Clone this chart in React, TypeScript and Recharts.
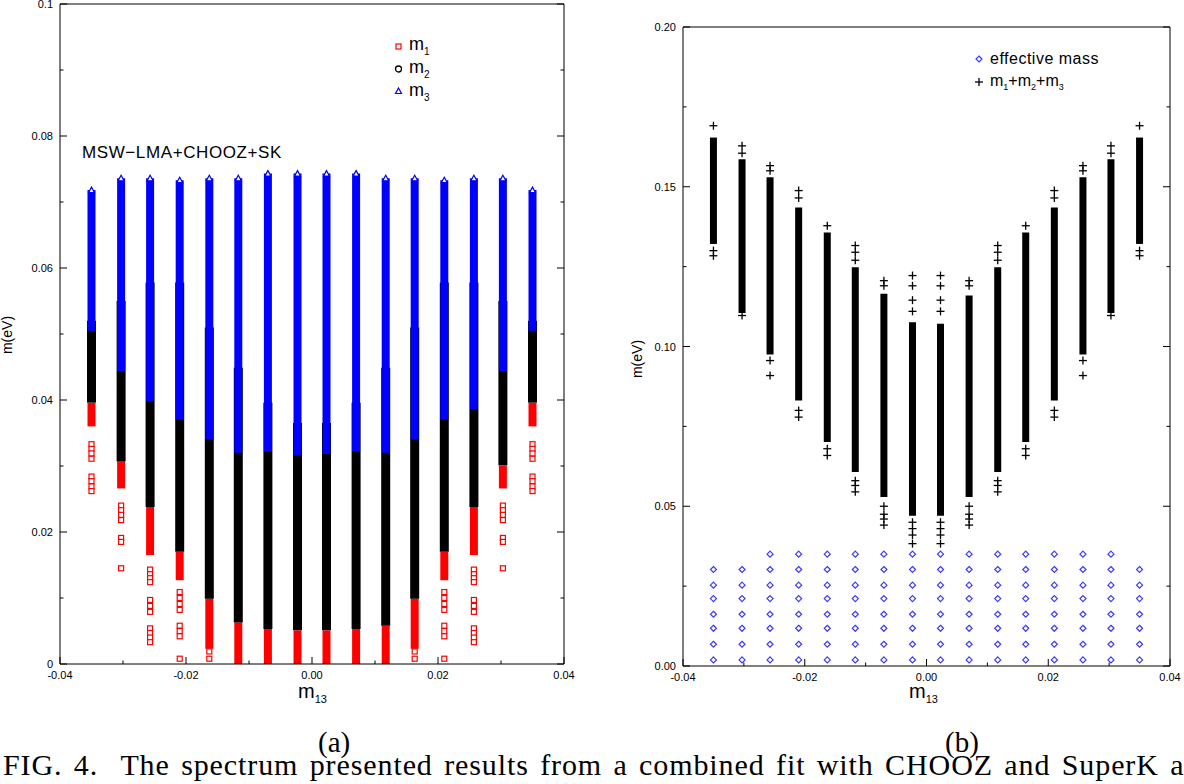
import React from 'react';
import { ScatterChart, Scatter, XAxis, YAxis, ErrorBar } from 'recharts';

// column positions (m13) shared by both panels
const m13 = [-0.035, -0.0303, -0.0257, -0.021, -0.0163, -0.0117, -0.007, -0.0023, 0.0023, 0.007, 0.0117, 0.0163, 0.021, 0.0257, 0.0303, 0.035];

// panel (a): dense ranges of each mass
const m1Low = [0.036, 0.0266, 0.0165, 0.0127, 0.0023, 0, 0, 0, 0, 0, 0, 0.0023, 0.0127, 0.0165, 0.0266, 0.036];
const m1High = [0.0396, 0.0307, 0.0238, 0.017, 0.0099, 0.0063, 0.0053, 0.0051, 0.0051, 0.0053, 0.0058, 0.0099, 0.017, 0.0238, 0.0301, 0.0396];
const m2Low = [0.0396, 0.0307, 0.0238, 0.017, 0.0099, 0.0063, 0.0053, 0.0051, 0.0051, 0.0053, 0.0058, 0.0099, 0.017, 0.0238, 0.0301, 0.0396];
const m2High = [0.052, 0.055, 0.0578, 0.0578, 0.051, 0.0449, 0.0396, 0.0365, 0.0365, 0.0396, 0.0449, 0.051, 0.0578, 0.0578, 0.055, 0.052];
const m3Low = [0.0505, 0.0444, 0.0398, 0.037, 0.034, 0.032, 0.0322, 0.0316, 0.0318, 0.0322, 0.032, 0.034, 0.037, 0.0386, 0.0444, 0.0505];
const m3High = [0.0718, 0.0736, 0.0736, 0.0733, 0.0736, 0.0736, 0.0743, 0.0743, 0.0743, 0.0743, 0.0736, 0.0736, 0.0733, 0.0736, 0.0736, 0.0718];

// isolated m1 points below the dense part
const m1Sparse: number[][] = [
  [0.0333, 0.0326, 0.0319, 0.0311, 0.0284, 0.0277, 0.0269, 0.0262],
  [0.024, 0.0233, 0.0226, 0.0218, 0.0191, 0.0185, 0.0145],
  [0.0143, 0.0136, 0.013, 0.0124, 0.0097, 0.0088, 0.0079, 0.0054, 0.0047, 0.004, 0.0033],
  [0.0109, 0.01, 0.0091, 0.0082, 0.0058, 0.005, 0.0042, 0.0008],
  [0.0019, 0.0008],
  [], [], [], [], [], [],
  [0.0019, 0.0008],
  [0.0109, 0.01, 0.0091, 0.0082, 0.0058, 0.005, 0.0042, 0.0008],
  [0.0143, 0.0136, 0.013, 0.0124, 0.0097, 0.0088, 0.0079, 0.0054, 0.0047, 0.004, 0.0033],
  [0.024, 0.0233, 0.0226, 0.0218, 0.0191, 0.0185, 0.0145],
  [0.0333, 0.0326, 0.0319, 0.0311, 0.0284, 0.0277, 0.0269, 0.0262],
];

// panel (b): m1+m2+m3
const sumLow = [0.1321, 0.1105, 0.0975, 0.0831, 0.0701, 0.0607, 0.0529, 0.047, 0.047, 0.0529, 0.0607, 0.0701, 0.0831, 0.0975, 0.1105, 0.1321];
const sumHigh = [0.1654, 0.1586, 0.153, 0.1435, 0.1357, 0.1248, 0.1165, 0.1076, 0.1071, 0.116, 0.1248, 0.1357, 0.1435, 0.153, 0.1586, 0.1654];
const sumSparse: number[][] = [
  [0.1691, 0.13, 0.1284],
  [0.1628, 0.1605, 0.1097],
  [0.1566, 0.155, 0.0956, 0.0909],
  [0.1488, 0.1465, 0.08, 0.0779],
  [0.1378, 0.068, 0.0659],
  [0.1316, 0.1295, 0.127, 0.058, 0.0565, 0.0545],
  [0.1206, 0.119, 0.05, 0.0475, 0.046, 0.0441],
  [0.1222, 0.119, 0.1145, 0.111, 0.045, 0.043, 0.041, 0.0383],
  [0.1222, 0.119, 0.1145, 0.111, 0.045, 0.043, 0.041, 0.0383],
  [0.1206, 0.119, 0.05, 0.0475, 0.046, 0.0441],
  [0.1316, 0.1295, 0.127, 0.058, 0.0565, 0.0545],
  [0.1378, 0.068, 0.0659],
  [0.1488, 0.1465, 0.08, 0.0779],
  [0.1566, 0.155, 0.0956, 0.0909],
  [0.1628, 0.1605, 0.1097],
  [0.1691, 0.13, 0.1284],
];

// effective mass grid
const effLevels = [0.0019, 0.0068, 0.0118, 0.0162, 0.0211, 0.0253, 0.0302, 0.035];
const effCount = [7, 7, 8, 8, 8, 8, 8, 8, 8, 8, 8, 8, 8, 8, 8, 7];

// ticks
const xTicks = [-0.04, -0.03, -0.02, -0.01, 0, 0.01, 0.02, 0.03, 0.04];
const xLabels = ['-0.04', '', '-0.02', '', '0.00', '', '0.02', '', '0.04'];
const aYTicks = [0, 0.01, 0.02, 0.03, 0.04, 0.05, 0.06, 0.07, 0.08, 0.09, 0.1];
const aYLabels = ['0', '', '0.02', '', '0.04', '', '0.06', '', '0.08', '', '0.1'];
const bYTicks = [0, 0.025, 0.05, 0.075, 0.1, 0.125, 0.15, 0.175, 0.2];
const bYLabels = ['0.00', '', '0.05', '', '0.10', '', '0.15', '', '0.20'];

const FONT = '"Liberation Sans", Arial, sans-serif';

const ranges = (lo: number[], hi: number[]) =>
  m13.map((x, i) => ({ x, y: (lo[i] + hi[i]) / 2, e: (hi[i] - lo[i]) / 2 }));
const sparse = (cols: number[][]) =>
  cols.flatMap((ys, i) => ys.map((y) => ({ x: m13[i], y })));
const effData = m13.flatMap((x, i) => effLevels.slice(0, effCount[i]).map((y) => ({ x, y })));
const m3Tops = m13.map((x, i) => ({ x, y: m3High[i] }));

type Side = 'left' | 'right' | 'top' | 'bottom';
const tick = (side: Side, labels: string[], showText: boolean) => (props: any) => {
  const { x, y, index } = props;
  const label = labels[index] || '';
  const len = label ? 7 : 3.5;
  let x2 = x;
  let y2 = y;
  if (side === 'left') x2 = x + len;
  if (side === 'right') x2 = x - len;
  if (side === 'bottom') y2 = y - len;
  if (side === 'top') y2 = y + len;
  let txt = null;
  if (showText && label) {
    txt = side === 'left'
      ? <text x={x - 7} y={y} dy={4} textAnchor="end" fontSize={11} fontFamily={FONT} fill="#000">{label}</text>
      : <text x={x} y={y} dy={15} textAnchor="middle" fontSize={11} fontFamily={FONT} fill="#000">{label}</text>;
  }
  return (
    <g>
      <line x1={x} y1={y} x2={x2} y2={y2} stroke="#000" strokeWidth={1} />
      {txt}
    </g>
  );
};

const none = () => <g />;
const square = (p: any) => <rect x={p.cx - 2.5} y={p.cy - 2.5} width={5} height={5} fill="#fff" stroke="#ff0000" strokeWidth={1.2} />;
const triangle = (p: any) => <path d={`M${p.cx},${p.cy - 3}L${p.cx + 3},${p.cy + 2.5}L${p.cx - 3},${p.cy + 2.5}Z`} fill="#fff" stroke="#0000ff" strokeWidth={1.2} />;
const plus = (p: any) => (
  <g stroke="#000" strokeWidth={1.3}>
    <line x1={p.cx - 4} y1={p.cy} x2={p.cx + 4} y2={p.cy} />
    <line x1={p.cx} y1={p.cy - 4} x2={p.cx} y2={p.cy + 4} />
  </g>
);
const diamond = (p: any) => <path d={`M${p.cx},${p.cy - 3}L${p.cx + 3},${p.cy}L${p.cx},${p.cy + 3}L${p.cx - 3},${p.cy}Z`} fill="#fff" stroke="#3a3aff" strokeWidth={1.2} />;

const Frame = (yTicks: number[], yLabels: string[], yMax: number, dims: any) => [
  <XAxis key="xb" dataKey="x" type="number" domain={[-0.04, 0.04]} ticks={xTicks} allowDataOverflow
    height={dims.bottom} tickSize={0} tickMargin={0} tick={tick('bottom', xLabels, true)} stroke="#000" interval={0} />,
  <XAxis key="xt" xAxisId="t" orientation="top" type="number" domain={[-0.04, 0.04]} ticks={xTicks} allowDataOverflow
    height={dims.top} tickSize={0} tickMargin={0} tick={tick('top', xLabels, false)} stroke="#000" interval={0} />,
  <YAxis key="yl" dataKey="y" type="number" domain={[0, yMax]} ticks={yTicks} allowDataOverflow
    width={dims.left} tickSize={0} tickMargin={0} tick={tick('left', yLabels, true)} stroke="#000" interval={0} />,
  <YAxis key="yr" yAxisId="r" orientation="right" type="number" domain={[0, yMax]} ticks={yTicks} allowDataOverflow
    width={dims.right} tickSize={0} tickMargin={0} tick={tick('right', yLabels, false)} stroke="#000" interval={0} />,
];

const PanelA = () => (
  <ScatterChart width={600} height={700} margin={{ top: 0, right: 0, bottom: 0, left: 0 }}>
    {Frame(aYTicks, aYLabels, 0.1, { top: 4, bottom: 36, left: 60, right: 36 })}
    <Scatter data={ranges(m1Low, m1High)} shape={none} isAnimationActive={false}>
      <ErrorBar dataKey="e" direction="y" width={0} stroke="#ff0000" strokeWidth={8} isAnimationActive={false} />
    </Scatter>
    <Scatter data={ranges(m2Low, m2High)} shape={none} isAnimationActive={false}>
      <ErrorBar dataKey="e" direction="y" width={0} stroke="#000" strokeWidth={9} isAnimationActive={false} />
    </Scatter>
    <Scatter data={ranges(m3Low, m3High)} shape={none} isAnimationActive={false}>
      <ErrorBar dataKey="e" direction="y" width={0} stroke="#0000ff" strokeWidth={8} isAnimationActive={false} />
    </Scatter>
    <Scatter data={m3Tops} shape={triangle} isAnimationActive={false} />
    <Scatter data={sparse(m1Sparse)} shape={square} isAnimationActive={false} />
  </ScatterChart>
);

const PanelB = () => (
  <ScatterChart width={584} height={700} margin={{ top: 0, right: 0, bottom: 0, left: 0 }}>
    {Frame(bYTicks, bYLabels, 0.2, { top: 27, bottom: 34, left: 83, right: 14 })}
    <Scatter data={ranges(sumLow, sumHigh)} shape={none} isAnimationActive={false}>
      <ErrorBar dataKey="e" direction="y" width={0} stroke="#000" strokeWidth={7} isAnimationActive={false} />
    </Scatter>
    <Scatter data={sparse(sumSparse)} shape={plus} isAnimationActive={false} />
    <Scatter data={effData} shape={diamond} isAnimationActive={false} />
  </ScatterChart>
);

const abs = (left: number, top: number, extra: any = {}) => ({ position: 'absolute' as const, left, top, ...extra });
const sans = { fontFamily: FONT, color: '#000', lineHeight: 1, whiteSpace: 'nowrap' as const };

export default function App() {
  return (
    <div style={{ position: 'absolute', left: 0, top: 0, width: 1184, height: 784, overflow: 'hidden', background: '#fff' }}>
      <div style={abs(0, 0)}><PanelA /></div>
      <div style={abs(600, 0)}><PanelB /></div>

      {/* panel (a) texts */}
      <div style={abs(82, 144, { ...sans, fontSize: 17, letterSpacing: 0.6 })}>MSW−LMA+CHOOZ+SK</div>
      <svg style={abs(393, 40)} width={12} height={60}>
        <rect x={3} y={4} width={5} height={5} fill="#fff" stroke="#ff0000" strokeWidth={1.2} />
        <circle cx={5.5} cy={29} r={3} fill="#fff" stroke="#000" strokeWidth={1.3} />
        <path d="M5.5,48L8.5,53.5L2.5,53.5Z" fill="#fff" stroke="#0000ff" strokeWidth={1.2} />
      </svg>
      <div style={abs(409, 35, { ...sans, fontSize: 18 })}>m<sub style={{ fontSize: 10 }}>1</sub></div>
      <div style={abs(409, 58, { ...sans, fontSize: 18 })}>m<sub style={{ fontSize: 10 }}>2</sub></div>
      <div style={abs(409, 81, { ...sans, fontSize: 18 })}>m<sub style={{ fontSize: 10 }}>3</sub></div>
      <div style={abs(-12, 328, { ...sans, fontSize: 14, transform: 'rotate(-90deg)' })}>m(eV)</div>
      <div style={abs(298, 681, { ...sans, fontSize: 20 })}>m<sub style={{ fontSize: 11 }}>13</sub></div>

      {/* panel (b) texts */}
      <svg style={abs(972, 52)} width={14} height={40}>
        <path d="M7,4L10,7L7,10L4,7Z" fill="#fff" stroke="#3a3aff" strokeWidth={1.2} />
        <g stroke="#000" strokeWidth={1.3}>
          <line x1={3} y1={30} x2={11} y2={30} />
          <line x1={7} y1={26} x2={7} y2={34} />
        </g>
      </svg>
      <div style={abs(990, 51, { ...sans, fontSize: 16, letterSpacing: 0.5 })}>effective mass</div>
      <div style={abs(990, 73, { ...sans, fontSize: 16 })}>
        m<sub style={{ fontSize: 9 }}>1</sub>+m<sub style={{ fontSize: 9 }}>2</sub>+m<sub style={{ fontSize: 9 }}>3</sub>
      </div>
      <div style={abs(618, 352, { ...sans, fontSize: 14, transform: 'rotate(-90deg)' })}>m(eV)</div>
      <div style={abs(909, 681, { ...sans, fontSize: 20 })}>m<sub style={{ fontSize: 11 }}>13</sub></div>

      {/* captions */}
      <div style={abs(318, 728, { fontFamily: '"Liberation Serif", serif', fontSize: 29, lineHeight: 1 })}>(a)</div>
      <div style={abs(945, 728, { fontFamily: '"Liberation Serif", serif', fontSize: 29, lineHeight: 1 })}>(b)</div>
      <div style={abs(3, 750, { fontFamily: '"Liberation Serif", serif', fontSize: 30, lineHeight: 1, whiteSpace: 'nowrap', letterSpacing: 0.9, wordSpacing: 3 })}>
        FIG. 4.&nbsp; The spectrum presented results from a combined fit with CHOOZ and SuperK and
      </div>
    </div>
  );
}
